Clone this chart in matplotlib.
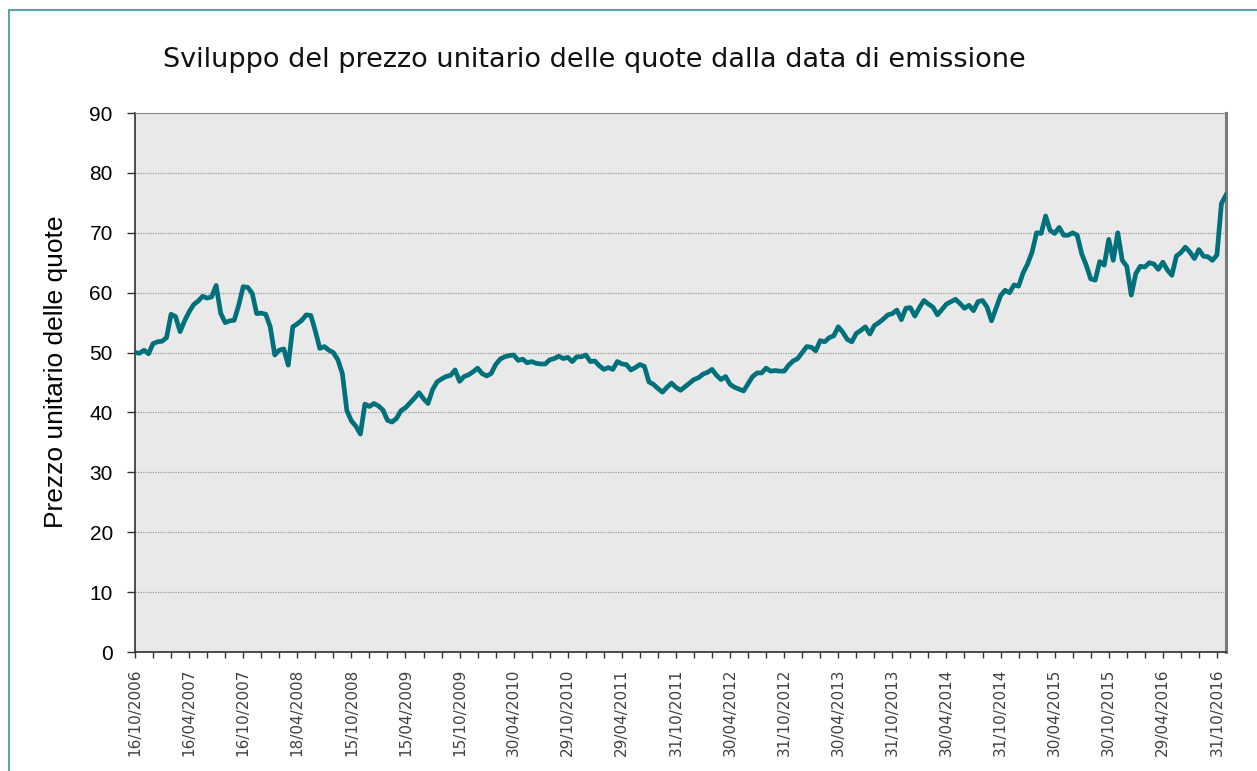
import numpy as np
import matplotlib
matplotlib.use('Agg')
import matplotlib.pyplot as plt
from matplotlib.lines import Line2D

# prezzo unitario, rilevazioni quindicinali (12 per semestre)
prezzi = [
    50.0, 49.9, 50.4, 49.8, 51.5, 51.8, 51.9, 52.5, 56.4, 56.0, 53.5, 55.3,
    56.8, 58.0, 58.6, 59.4, 59.1, 59.3, 61.2, 56.6, 55.0, 55.3, 55.4, 57.9,
    61.0, 60.9, 59.9, 56.5, 56.6, 56.4, 54.3, 49.6, 50.4, 50.6, 47.9, 54.3,
    54.8, 55.4, 56.3, 56.2, 53.6, 50.7, 51.0, 50.4, 50.0, 48.8, 46.5, 40.3,
    38.6, 37.7, 36.4, 41.4, 41.0, 41.5, 41.1, 40.4, 38.7, 38.4, 39.0, 40.3,
    40.8, 41.6, 42.4, 43.3, 42.3, 41.5, 43.8, 45.1, 45.6, 46.0, 46.2, 47.1,
    45.2, 46.0, 46.3, 46.8, 47.4, 46.5, 46.1, 46.5, 48.0, 48.9, 49.3, 49.5,
    49.6, 48.7, 48.9, 48.3, 48.5, 48.2, 48.1, 48.1, 48.8, 49.0, 49.4, 49.0,
    49.2, 48.5, 49.3, 49.3, 49.6, 48.5, 48.6, 47.8, 47.2, 47.5, 47.2, 48.5,
    48.1, 48.0, 47.1, 47.5, 48.0, 47.7, 45.1, 44.7, 44.0, 43.4, 44.2, 44.9,
    44.2, 43.7, 44.3, 44.9, 45.5, 45.8, 46.4, 46.7, 47.2, 46.2, 45.5, 46.0,
    44.7, 44.2, 43.9, 43.6, 44.8, 46.0, 46.6, 46.6, 47.4, 46.9, 47.0, 46.9,
    46.9, 47.9, 48.6, 49.0, 50.0, 51.0, 50.9, 50.3, 52.0, 51.8, 52.5, 52.8,
    54.3, 53.4, 52.2, 51.8, 53.2, 53.7, 54.3, 53.1, 54.5, 55.0, 55.6, 56.3,
    56.5, 57.1, 55.5, 57.4, 57.5, 56.1, 57.5, 58.7, 58.1, 57.6, 56.3, 57.2,
    58.1, 58.5, 58.9, 58.2, 57.4, 57.9, 57.0, 58.5, 58.7, 57.6, 55.3, 57.4,
    59.5, 60.4, 60.0, 61.3, 61.1, 63.3, 64.8, 66.8, 70.0, 69.9, 72.8, 70.4,
    69.9, 70.9, 69.6, 69.6, 70.0, 69.6, 66.5, 64.6, 62.3, 62.1, 65.2, 64.6,
    68.9, 65.4, 70.0, 65.4, 64.4, 59.6, 63.2, 64.4, 64.3, 65.0, 64.8, 63.9,
    65.1, 63.8, 62.9, 66.1, 66.7, 67.6, 66.8, 65.7, 67.2, 66.1, 66.0, 65.4,
    66.3, 74.9, 76.3,
]

etichette = [
    '16/10/2006', '16/04/2007', '16/10/2007', '18/04/2008', '15/10/2008',
    '15/04/2009', '15/10/2009', '30/04/2010', '29/10/2010', '29/04/2011',
    '31/10/2011', '30/04/2012', '31/10/2012', '30/04/2013', '31/10/2013',
    '30/04/2014', '31/10/2014', '30/04/2015', '30/10/2015', '29/04/2016',
    '31/10/2016',
]

titolo = 'Sviluppo del prezzo unitario delle quote dalla data di emissione'
ylabel = 'Prezzo unitario delle quote'

passo_etichette = 12
passo_tacche = 4


def grafico():
    fig = plt.figure(figsize=(12.57, 7.71), dpi=100)
    ax = fig.add_axes([0.1074, 0.1543, 0.8679, 0.6991])

    x = np.arange(len(prezzi))
    ax.plot(x, prezzi, color='#00707a', linewidth=3.4,
            solid_joinstyle='round', zorder=3)

    ax.set_facecolor('#e9e9e9')
    ax.set_xlim(0, len(prezzi) - 1)
    ax.set_ylim(0, 90)
    ax.set_yticks(np.arange(0, 91, 10))
    ax.yaxis.grid(True, linestyle=(0, (1, 1)), color='#9a9a9a', linewidth=0.9)
    ax.set_axisbelow(True)

    ax.set_xticks(np.arange(0, len(prezzi), passo_tacche), minor=True)
    ax.set_xticks(np.arange(0, len(etichette) * passo_etichette, passo_etichette))
    ax.set_xticklabels(etichette, rotation=90, fontsize=11, color='#404040',
                       family='DejaVu Sans')
    ax.tick_params(axis='x', which='both', length=4, width=1, color='#333333',
                   pad=8)
    ax.tick_params(axis='y', length=6, width=1, color='#333333', pad=10,
                   labelsize=15)
    for t in ax.get_yticklabels():
        t.set_family('Liberation Sans')

    for lato in ['left', 'bottom']:
        ax.spines[lato].set_color('#303030')
        ax.spines[lato].set_linewidth(1.2)
    ax.spines['top'].set_color('#8c8c8c')
    ax.spines['right'].set_color('#7a7a7a')
    ax.spines['right'].set_linewidth(2.2)

    ax.set_ylabel(ylabel, fontsize=19, family='Liberation Sans')
    ax.yaxis.set_label_coords(-0.0614, 0.52)

    fig.text(0.13, 0.922, titolo, fontsize=19.5, ha='left', va='center',
             family='DejaVu Sans', color='#111111')

    # cornice esterna
    fig.add_artist(Line2D([9 / 1257, 1.0], [1 - 10 / 771, 1 - 10 / 771],
                          color='#5fa3a8', linewidth=1.5))
    fig.add_artist(Line2D([9 / 1257, 9 / 1257], [0, 1 - 10 / 771],
                          color='#5fa3a8', linewidth=1.5))

    fig.savefig('out.png', dpi=100)


if __name__ == '__main__':
    grafico()
